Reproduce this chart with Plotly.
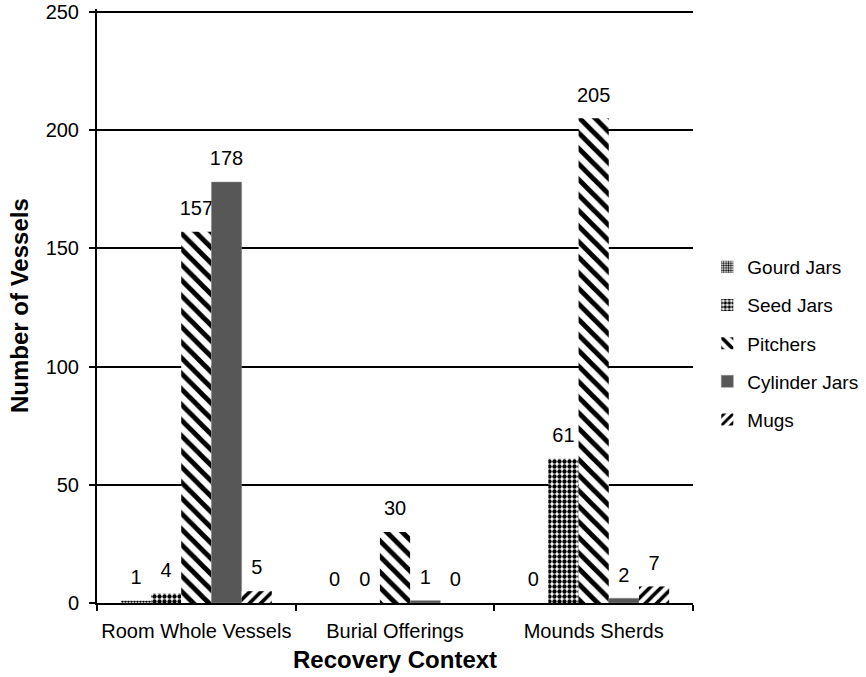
import plotly.graph_objects as go

categories = ["Room Whole Vessels", "Burial Offerings", "Mounds Sherds"]
series_names = ["Gourd Jars", "Seed Jars", "Pitchers", "Cylinder Jars", "Mugs"]
gourd_jars = [1, 0, 0]
seed_jars = [4, 0, 61]
pitchers = [157, 30, 205]
cylinder_jars = [178, 1, 2]
mugs = [5, 0, 7]
y_ticks = [0, 50, 100, 150, 200, 250]

series_values = [gourd_jars, seed_jars, pitchers, cylinder_jars, mugs]
styles = [
    dict(color="white", pattern=dict(shape=".", size=3, solidity=0.5, fgcolor="black", bgcolor="white", fillmode="replace")),
    dict(color="white", pattern=dict(shape=".", size=5, solidity=0.6, fgcolor="black", bgcolor="white", fillmode="replace")),
    dict(color="white", pattern=dict(shape="\\", size=11, solidity=0.45, fgcolor="black", bgcolor="white", fillmode="replace")),
    dict(color="#575757", line=dict(color="#8a8a8a", width=0.5)),
    dict(color="white", pattern=dict(shape="/", size=8, solidity=0.45, fgcolor="black", bgcolor="white", fillmode="replace")),
]

FONT = "Liberation Sans, Arial, sans-serif"

W, H = 866, 677
L, R, T, B = 97, 173, 9, 74
pw = W - L - R
ph = H - T - B


def label(v):
    # value at 20px, plus a tiny transparent second line to lift it off the bar
    return f"<span style='font-size:20px'>{v}</span><br><span style='color:rgba(0,0,0,0)'>.</span>"


fig = go.Figure()
for name, vals, st in zip(series_names, series_values, styles):
    marker = dict(st)
    if "line" not in marker:
        marker["line"] = dict(width=0)
    fig.add_trace(go.Bar(
        name=name, x=categories, y=vals, marker=marker,
        text=[label(v) for v in vals], textposition="outside",
        textfont=dict(family=FONT, size=9, color="black"),
        constraintext="none",
        cliponaxis=False, legendgroup=name,
    ))

fig.update_layout(
    width=W, height=H,
    paper_bgcolor="white", plot_bgcolor="white",
    margin=dict(l=L, r=R, t=T, b=B, autoexpand=False),
    barmode="group", bargap=0.24, bargroupgap=0,
    font=dict(family=FONT, size=20, color="black"),
    showlegend=True,
    legend=dict(x=1.024, y=0.437, xanchor="left", yanchor="middle",
                font=dict(size=19), tracegroupgap=10.5, traceorder="grouped",
                itemwidth=30, bgcolor="rgba(0,0,0,0)"),
    annotations=[
        dict(text="<b>Recovery Context</b>", x=0.5, xref="paper", y=(H - B - 659) / ph, yref="paper",
             showarrow=False, font=dict(size=24), yanchor="middle"),
        dict(text="<b>Number of Vessels</b>", x=(19 - L) / pw, xref="paper", y=0.5, yref="paper",
             showarrow=False, font=dict(size=24), textangle=-90, xanchor="center"),
    ],
)

fig.update_xaxes(
    showline=True, linecolor="black", linewidth=2, automargin=False,
    ticks="outside", tickson="boundaries", ticklen=6, tickwidth=1.5, tickcolor="black",
    tickfont=dict(size=20), ticklabelstandoff=9, tickangle=0,
    showgrid=False,
)
fig.update_yaxes(
    range=[0, 251.2], tickvals=y_ticks, automargin=False,
    showline=True, linecolor="black", linewidth=2,
    ticks="outside", ticklen=6, tickwidth=1.5, tickcolor="black",
    tickfont=dict(size=20), ticklabelstandoff=6, ticklabeloverflow="allow",
    showgrid=True, gridcolor="black", gridwidth=1.5,
    zeroline=False,
)

fig.write_html("out.html", config={"displayModeBar": False},
               post_script="document.body.style.margin='0';")
